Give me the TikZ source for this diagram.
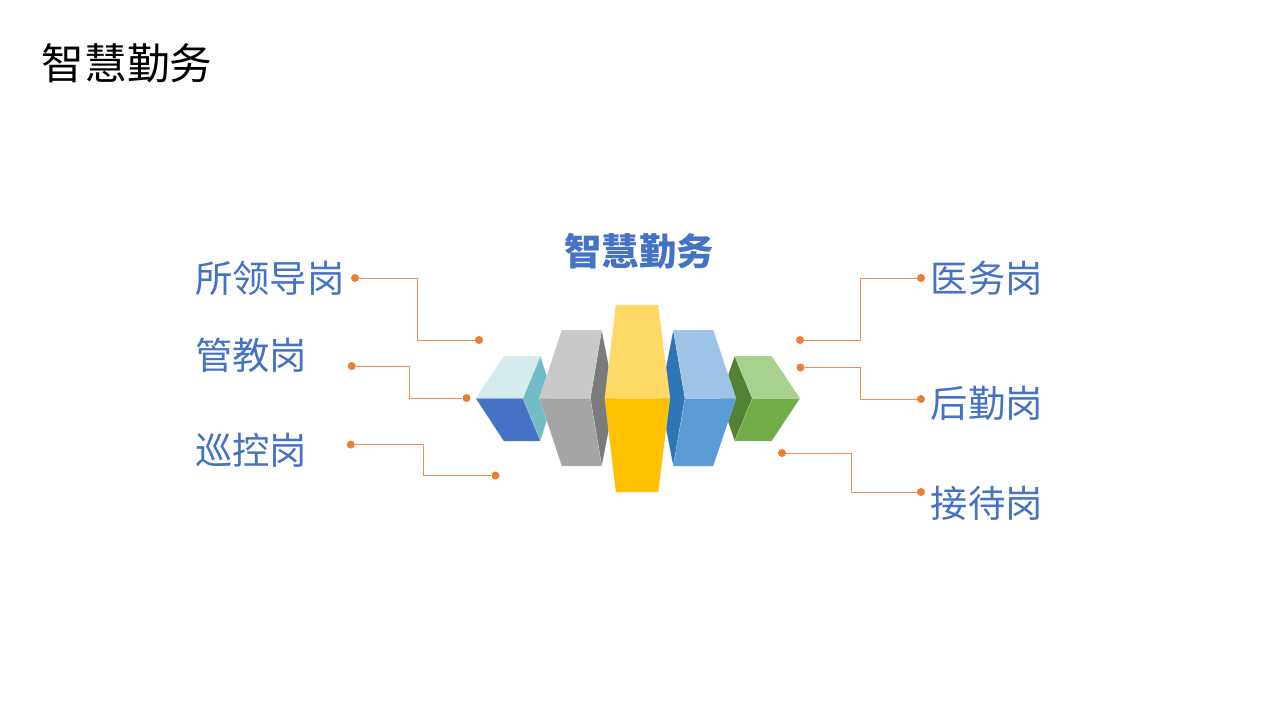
\documentclass[tikz,border=0pt]{standalone}
\usepackage{fontspec}
\setmainfont{Noto Sans CJK SC}
\usepackage{tikz}
\definecolor{postblue}{HTML}{4472C4}
\definecolor{linkorange}{HTML}{ED7D31}
\definecolor{cubeteal}{HTML}{72BDC5}
\definecolor{cubepale}{HTML}{D6EBEE}
\definecolor{cubemoss}{HTML}{548235}
\definecolor{cubeleaf}{HTML}{A9D18E}
\definecolor{cubegrass}{HTML}{70AD47}
\definecolor{blockslate}{HTML}{7B7B7B}
\definecolor{blocksilver}{HTML}{C9C9C9}
\definecolor{blockgray}{HTML}{A5A5A5}
\definecolor{blocknavy}{HTML}{2E75B6}
\definecolor{blocksky}{HTML}{9DC3E6}
\definecolor{blocksea}{HTML}{5B9BD5}
\definecolor{blockbutter}{HTML}{FFD966}
\definecolor{blockgold}{HTML}{FFC000}
\tikzset{
    facet/.style={draw=white, draw opacity=0.3, line width=0.3pt, line join=round},
    postlabel/.style={text=postblue, font=\fontsize{28}{30}\selectfont, inner sep=0pt, anchor=west},
    dotmark/.style={circle, fill=linkorange, inner sep=0pt, minimum size=6pt},
    linkline/.style={draw=linkorange!85!white, line width=0.75pt}
}
\begin{document}
\begin{tikzpicture}[x=0.75pt, y=-0.75pt]
    \useasboundingbox[fill=white] (0,0) rectangle (1280,720);

    \node[inner sep=0pt, anchor=west, font=\fontsize{32}{34}\selectfont] (pagetitle) at (41.5,63) {智慧勤务};
    \node[text=postblue, inner sep=0pt, font=\fontsize{28}{30}\selectfont\bfseries] (blocktitle) at (639,251) {智慧勤务};

    % outer cube, left
    \fill[facet, fill=cubeteal] (540.3,356) -- (554,398.3) -- (540.3,441) -- (522.7,398.3) -- cycle;
    \fill[facet, fill=cubepale] (475.7,398.3) -- (503.7,356) -- (540.3,356) -- (522.7,398.3) -- cycle;
    \fill[facet, fill=postblue] (475.7,398.3) -- (503.7,441) -- (540.3,441) -- (522.7,398.3) -- cycle;
    % outer cube, right
    \fill[facet, fill=cubemoss] (734.7,356) -- (752.3,398.3) -- (734.7,441) -- (720,398.3) -- cycle;
    \fill[facet, fill=cubeleaf] (734.7,356) -- (771.7,356) -- (800,398.3) -- (752.3,398.3) -- cycle;
    \fill[facet, fill=cubegrass] (734.7,441) -- (771.7,441) -- (800,398.3) -- (752.3,398.3) -- cycle;
    % middle blocks
    \fill[facet, fill=blockslate] (601.7,330) -- (615,398.3) -- (601.7,466) -- (590.3,398.3) -- cycle;
    \fill[facet, fill=blocksilver] (539.3,398.3) -- (561.7,330) -- (601.7,330) -- (590.3,398.3) -- cycle;
    \fill[facet, fill=blockgray] (539.3,398.3) -- (561.7,466) -- (601.7,466) -- (590.3,398.3) -- cycle;
    \fill[facet, fill=blocknavy] (673.3,330) -- (685,398.3) -- (673.3,466) -- (660,398.3) -- cycle;
    \fill[facet, fill=blocksky] (673.3,330) -- (713.3,330) -- (736,398.3) -- (685,398.3) -- cycle;
    \fill[facet, fill=blocksea] (673.3,466) -- (713.3,466) -- (736,398.3) -- (685,398.3) -- cycle;
    % centre block
    \fill[facet, fill=blockbutter] (604.8,398.3) -- (615.7,305) -- (658.3,305) -- (670,398.3) -- cycle;
    \fill[facet, fill=blockgold] (604.8,398.3) -- (615.7,492) -- (658.3,492) -- (670,398.3) -- cycle;

    % left posts
    \node[postlabel] (leader) at (195,278) {所领导岗};
    \node[postlabel] (teach) at (195,355) {管教岗};
    \node[postlabel] (patrol) at (195,450) {巡控岗};
    % right posts
    \node[postlabel] (medic) at (930.5,278) {医务岗};
    \node[postlabel] (logist) at (930.5,403) {后勤岗};
    \node[postlabel] (recept) at (930.5,503) {接待岗};

    \foreach \Name/\PointA/\PointB/\BendX in {
        leader/{(355,278)}/{(479,340)}/417,
        teach/{(351.7,366)}/{(466.5,398)}/409,
        patrol/{(350.7,444.5)}/{(495.5,475.5)}/423,
        medic/{(921,278)}/{(800,340)}/860.5,
        logist/{(921,399)}/{(800.5,367.5)}/860.5,
        recept/{(921,492)}/{(782,453)}/851.5}
    {
        \node[dotmark] (\Name dot) at \PointA {};
        \node[dotmark] (\Name end) at \PointB {};
        \coordinate (\Name bend) at (\BendX,0);
        \draw[linkline] (\Name dot) -- (\Name dot -| \Name bend) -- (\Name end -| \Name bend) -- (\Name end);
    }
\end{tikzpicture}
\end{document}
